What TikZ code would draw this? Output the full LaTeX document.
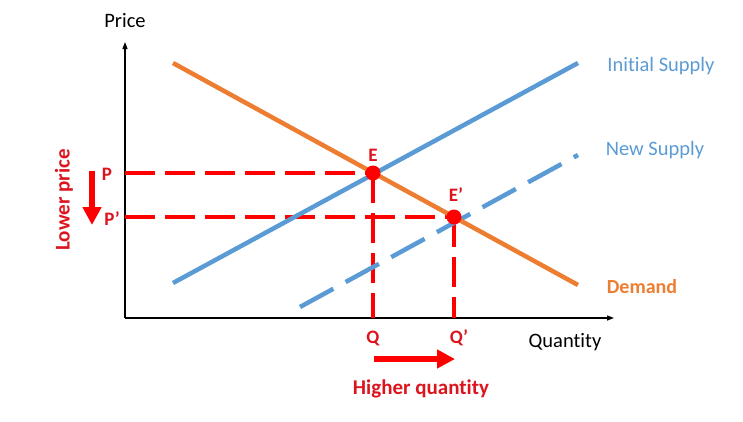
\documentclass[tikz,border=0pt]{standalone}
\usepackage{fontspec}
\setmainfont[Ligatures={NoCommon}]{Carlito}
\usetikzlibrary{arrows.meta}
\definecolor{supblue}{RGB}{91,155,213}
\definecolor{demorange}{RGB}{237,125,49}
\definecolor{myred}{RGB}{255,0,0}
\definecolor{redtext}{RGB}{220,20,30}
\begin{document}
\begin{tikzpicture}[x=1pt,y=-1pt,
  axis/.style={line width=1.2pt,-{Triangle[length=7pt,width=5pt]}},
  guide/.style={myred,line width=3.2pt,dash pattern=on 30pt off 10pt},
  supply/.style={supblue,line width=4.5pt},
  newsupply/.style={supblue,line width=4.5pt,dash pattern=on 38pt off 14pt},
  demand/.style={demorange,line width=4.5pt},
  dot/.style={circle,fill=myred,inner sep=0pt,minimum size=15pt},
  redlbl/.style={text=redtext,font=\fontsize{19}{22}\selectfont\bfseries},
  biglbl/.style={text=redtext,font=\fontsize{21}{24}\selectfont\bfseries},
  lbl/.style={font=\fontsize{20.5}{24}\selectfont},
  bigarrow/.style={myred,line width=6.5pt,-{Triangle[length=18pt,width=18pt]}}]
\useasboundingbox (0,0) rectangle (743,421);
% axes
\coordinate (O) at (125,318);
\coordinate (ytop) at (125,42);
\coordinate (xend) at (614,318);
\draw[axis] (O) -- (ytop);
\draw[axis] (O) -- (xend);
\node[lbl] (price) at (125,21) {Price};
\node[lbl] (qty) at (565,342) {Quantity};
% curves
\coordinate (d1) at (173,63);
\coordinate (d2) at (578,285);
\coordinate (s1) at (173,283);
\coordinate (s2) at (578,63);
\coordinate (n1) at (300,307);
\coordinate (n2) at (578,155);
\coordinate (E) at (373,173);
\coordinate (E2) at (454,217);
\coordinate (yP) at (125,173);
\coordinate (yP2) at (125,217);
\coordinate (xQ) at (373,318);
\coordinate (xQ2) at (454,318);
% guides
\draw[guide] (yP) -- (E);
\draw[guide] (yP2) -- (E2);
\draw[guide] (E) -- (xQ);
\draw[guide] (E2) -- (xQ2);
\draw[supply] (s1) -- (s2);
\draw[newsupply] (n1) -- (n2);
\draw[demand] (d1) -- (d2);
\node[dot] (dE) at (E) {};
\node[dot] (dE2) at (E2) {};
% curve labels
\node[lbl,text=supblue] (lis) at (661,66) {Initial Supply};
\node[lbl,text=supblue] (lns) at (655,150) {New Supply};
\node[lbl,text=demorange,font=\fontsize{20}{24}\selectfont\bfseries] (ldm) at (642,287) {Demand};
% point labels
\node[redlbl] (lE) at (373,155) {E};
\node[redlbl] (lE2) at (456,195) {E’};
\node[redlbl] (lP) at (107,174) {P};
\node[redlbl] (lP2) at (112,219) {P’};
\node[redlbl] (lQ) at (373,338) {Q};
\node[redlbl] (lQ2) at (459,338) {Q’};
% shift arrows
\coordinate (a1) at (92,171);
\coordinate (a2) at (92,225);
\draw[bigarrow] (a1) -- (a2);
\coordinate (b1) at (374,359);
\coordinate (b2) at (455,359);
\draw[bigarrow] (b1) -- (b2);
\node[biglbl,rotate=90] (lp) at (64,200) {Lower price};
\node[biglbl] (hq) at (421,389) {Higher quantity};
\end{tikzpicture}
\end{document}
